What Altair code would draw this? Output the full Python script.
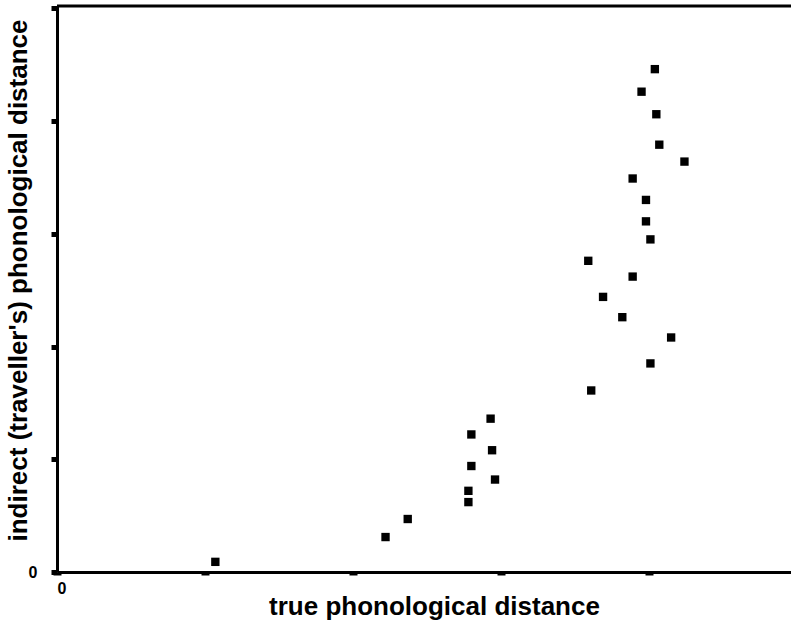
import altair as alt
import pandas as pd

# true phonological distance vs. indirect (traveller's) phonological distance
true_dist = [1.07, 2.22, 2.37, 2.80, 2.93, 2.80, 2.94, 2.78, 2.78, 2.96,
             3.61, 3.59, 3.69, 3.82, 3.89, 3.89, 3.98, 3.98, 4.01, 4.01,
             4.15, 3.95, 4.04, 4.05, 4.07, 4.24]
indirect_dist = [0.09, 0.31, 0.47, 1.22, 1.36, 0.94, 1.08, 0.72, 0.62, 0.82,
                 1.61, 2.76, 2.44, 2.26, 2.62, 3.49, 3.30, 3.11, 2.95, 1.85,
                 2.08, 4.26, 4.46, 4.06, 3.79, 3.64]

x_ticks = [0, 1, 2, 3, 4]
y_ticks = [0, 1, 2, 3, 4, 5]
x_max = 4.96
y_max = 5.02

df = pd.DataFrame({"true": true_dist, "indirect": indirect_dist})

FONT = "Liberation Sans"

x_enc = alt.X(
    "true:Q",
    scale=alt.Scale(domain=[0, x_max], nice=False, zero=True),
    axis=alt.Axis(
        values=x_ticks,
        labelExpr="datum.value == 0 ? '0' : ''",
        title="true phonological distance",
        grid=False,
        domainColor="black",
        domainWidth=3,
        tickColor="black",
        tickSize=3,
        tickWidth=8,
        labelPadding=5,
        labelFont=FONT,
        labelFontSize=16,
        labelFontWeight="bold",
        labelColor="black",
        titleFont=FONT,
        titleFontSize=26,
        titleFontWeight="bold",
        titleColor="black",
        titleX=377,
        titleY=42,
        titleBaseline="alphabetic",
        titleAnchor="start",
        titleAlign="center",
    ),
)

y_enc = alt.Y(
    "indirect:Q",
    scale=alt.Scale(domain=[0, y_max], nice=False, zero=True),
    axis=alt.Axis(
        values=y_ticks,
        labelExpr="datum.value == 0 ? '0' : ''",
        title="indirect (traveller's) phonological distance",
        grid=False,
        domainColor="black",
        domainWidth=3,
        tickColor="black",
        tickSize=6,
        tickWidth=5,
        labelPadding=14,
        labelFont=FONT,
        labelFontSize=16,
        labelFontWeight="bold",
        labelColor="black",
        titleFont=FONT,
        titleFontSize=26,
        titleFontWeight="bold",
        titleColor="black",
        titleX=-31,
        titleY=274,
        titleAngle=-90,
        titleBaseline="alphabetic",
        titleAnchor="start",
        titleAlign="center",
    ),
)

points = alt.Chart(df).mark_square(
    filled=True, color="black", size=70, opacity=1
).encode(x=x_enc, y=y_enc)

# upper frame line
top_line = alt.Chart(pd.DataFrame({"top": [y_max]})).mark_rule(
    color="black", strokeWidth=3
).encode(y=alt.Y("top:Q"))

chart = (
    alt.layer(points, top_line)
    .properties(
        width=734,
        height=566,
        autosize=alt.AutoSizeParams(type="none"),
        padding={"left": 57, "top": 6, "right": 0, "bottom": 53},
        background="white",
    )
    .configure_view(stroke=None)
)

chart.save("out.html", embed_options={"renderer": "svg", "actions": False})
